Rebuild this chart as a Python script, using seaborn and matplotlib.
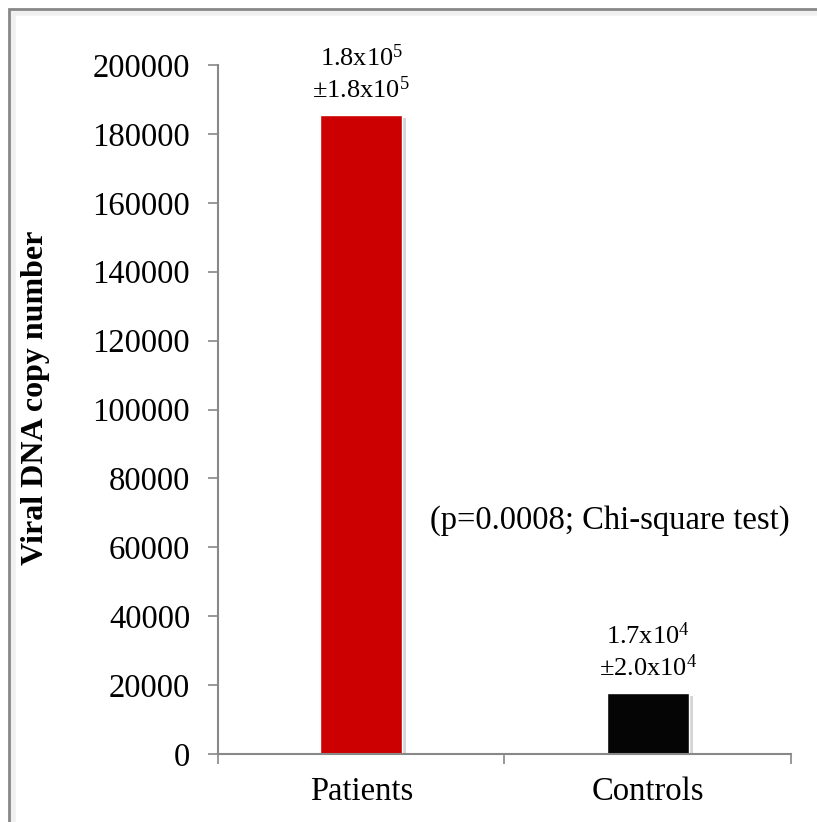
import matplotlib
matplotlib.use("Agg")
import matplotlib.pyplot as plt
import matplotlib.patheffects as pe
from matplotlib.patches import Rectangle
import numpy as np
import pandas as pd
import seaborn as sns

groups = ["Patients", "Controls"]
copies = [185500, 17700]
labels = ["1.8x10$^5$\n\u00b11.8x10$^5$", "1.7x10$^4$\n\u00b12.0x10$^4$"]
bar_colors = ["#cc0000", "#050505"]
yticks = list(range(0, 200001, 20000))

sns.set_style("white")
plt.rcParams["font.family"] = ["Liberation Serif", "DejaVu Serif"]
plt.rcParams["mathtext.fontset"] = "custom"
plt.rcParams["mathtext.rm"] = "Liberation Serif"
plt.rcParams["mathtext.it"] = "Liberation Serif:italic"
plt.rcParams["mathtext.bf"] = "Liberation Serif:bold"
plt.rcParams["text.color"] = "black"
plt.rcParams["axes.labelcolor"] = "black"

df = pd.DataFrame({"group": groups, "copies": copies})

fig = plt.figure(figsize=(8.17, 8.22), dpi=100)
ax = fig.add_axes([0.2668, 0.0827, 0.7013, 0.8382])

sns.barplot(data=df, x="group", y="copies", hue="group", palette=bar_colors,
            width=0.286, legend=False, saturation=1, ax=ax)

for bar in ax.patches:
    bar.set_path_effects([pe.SimplePatchShadow(offset=(3, -2), shadow_rgbFace="#777777", alpha=0.3),
                          pe.Normal()])

for i, (v, t) in enumerate(zip(copies, labels)):
    ax.annotate(t, xy=(i, v), xytext=(0, 9), textcoords="offset points",
                ha="center", va="bottom", fontsize=19, linespacing=1.25, color="black")

ax.text(0.868, 67900, "(p=0.0008; Chi-square test)", ha="center", va="center",
        fontsize=23.5, color="black")

ax.set_xlim(-0.5, 1.5)
ax.set_ylim(0, 200000)
ax.set_yticks(yticks)
ax.set_yticklabels([str(t) for t in yticks])
ax.set_xticks([0, 1])
ax.set_xticks([-0.5, 0.5, 1.5], minor=True)
ax.tick_params(axis="x", which="major", length=0, pad=16, labelsize=23.5, labelcolor="black")
ax.tick_params(axis="x", which="minor", bottom=True, length=7, width=1.2, color="#888888", direction="out")
ax.tick_params(axis="y", left=True, length=7, width=1.2, color="#888888", direction="out", pad=13,
               labelsize=23.5, labelcolor="black")

for s in ["top", "right"]:
    ax.spines[s].set_visible(False)
for s in ["left", "bottom"]:
    ax.spines[s].set_color("#888888")
    ax.spines[s].set_linewidth(1.5)

ax.set_xlabel("")
ax.set_ylabel("Viral DNA copy number", fontsize=23, fontweight="bold")
ax.yaxis.set_label_coords(-0.319, 0.517)
ax.yaxis.label.set_va("center")

# outer frame
fig.patches.append(Rectangle((13 / 817, -0.1), 1.2, 1 - 13 / 822 + 0.1, transform=fig.transFigure,
                             fill=False, edgecolor="#f0f0f0", lw=4))
fig.patches.append(Rectangle((9 / 817, -0.1), 1.2, 1 - 9 / 822 + 0.1, transform=fig.transFigure,
                             fill=False, edgecolor="#888888", lw=2))

fig.savefig("out.png", dpi=100)
